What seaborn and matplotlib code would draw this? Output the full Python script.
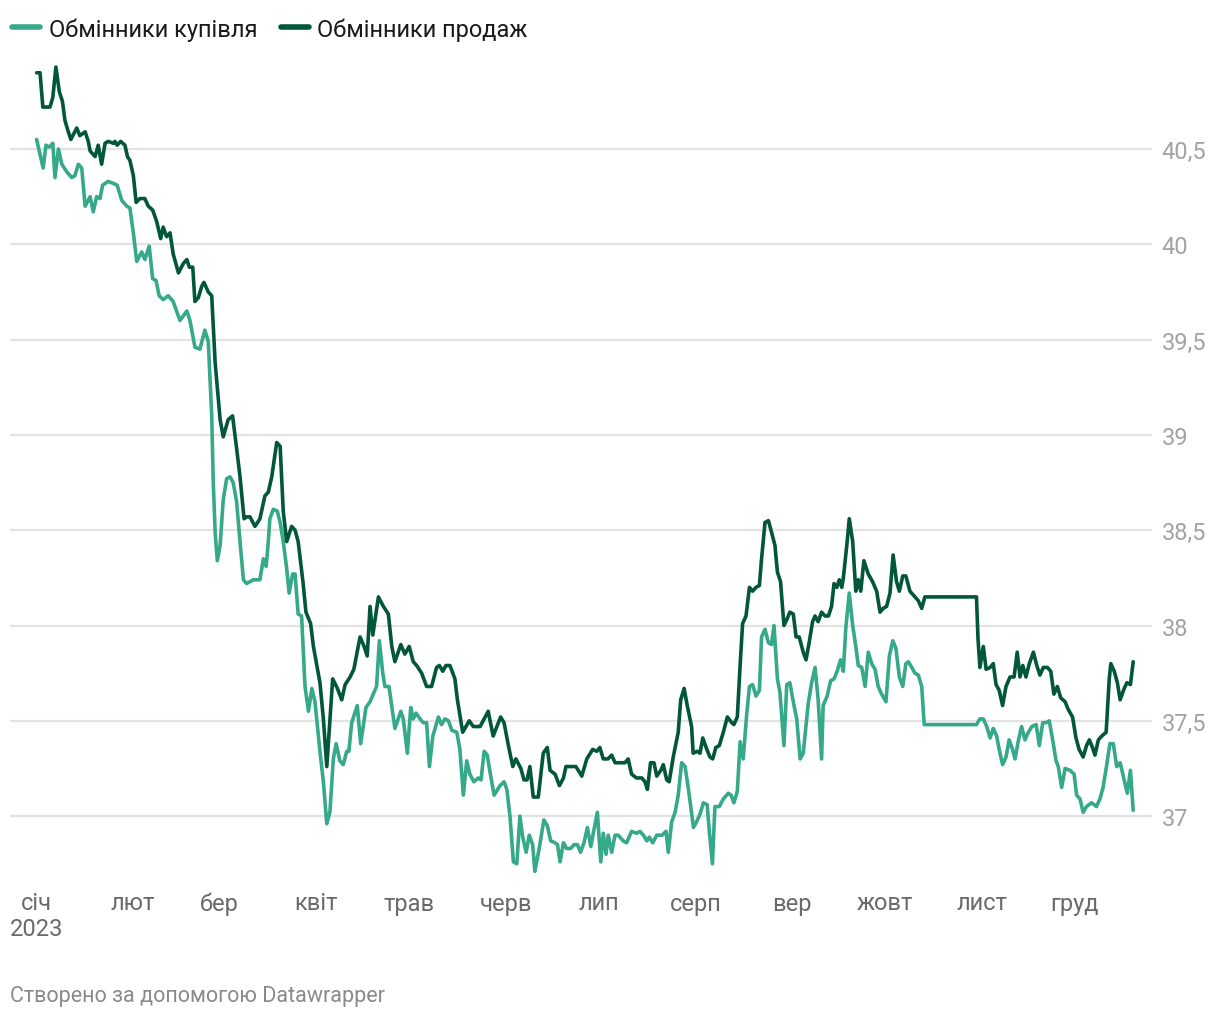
import matplotlib
matplotlib.use("Agg")
import matplotlib.pyplot as plt
from matplotlib.lines import Line2D
import seaborn as sns
import pandas as pd

# ---------------- data (day offset from 2023-01-01, UAH per USD) ----------------
sell_days = [0.2, 1.3, 2.2, 4.5, 5.4, 6.4, 7.5, 8.5, 9.3, 10.4, 11.2, 13.1, 14.1, 15.8, 16.8, 17.4, 19.0, 20.0,
             21.1, 22.2, 23.2, 24.9, 25.4, 26.1, 27.2, 28.6, 29.4, 30.2, 31.3, 32.2, 33.4, 35.0, 36.1, 37.5, 38.8,
             40.1, 40.9, 42.0, 43.1, 44.1, 45.8, 47.4, 48.5, 49.3, 50.4, 51.1, 52.2, 53.3, 54.0, 55.4, 56.5, 57.6,
             59.2, 60.2, 61.8, 63.2, 64.5, 65.6, 66.9, 67.7, 68.8, 70.4, 72.0, 73.6, 74.7, 75.8, 77.4, 78.5, 79.5,
             80.6, 82.2, 83.3, 84.3, 85.9, 86.8, 88.3, 89.2, 91.3, 92.4, 93.5, 95.4, 96.9, 98.3, 99.4, 101.0, 102.2,
             104.2, 105.5, 106.5, 107.4, 108.3, 110.1, 111.7, 113.3, 114.4, 115.4, 117.3, 118.6, 120.0, 121.3, 122.4,
             124.0, 125.6, 127.2, 128.8, 129.7, 130.8, 131.8, 133.1, 134.7, 135.5, 137.2, 139.3, 140.6, 142.8, 144.4,
             145.4, 147.0, 149.4, 150.5, 151.9, 153.3, 154.3, 155.9, 156.9, 157.9, 158.8, 159.9, 161.5, 163.1, 164.4,
             165.3, 166.9, 168.3, 169.6, 170.4, 171.9, 173.6, 175.5, 177.1, 179.0, 180.3, 181.3, 182.4, 183.9, 185.1,
             186.2, 189.4, 190.4, 191.5, 193.1, 194.8, 195.8, 196.6, 197.6, 198.7, 199.6, 200.9, 201.7, 202.8, 203.6,
             204.9, 206.5, 207.3, 208.4, 209.4, 210.8, 211.3, 212.6, 213.5, 214.4, 215.7, 216.7, 217.6, 218.6, 219.7,
             221.0, 222.3, 223.7, 224.4, 225.5, 226.4, 227.2, 228.3, 229.4, 230.4, 231.5, 232.6, 233.3, 234.4, 235.5,
             236.5, 237.6, 238.4, 239.4, 240.5, 241.4, 242.4, 243.5, 244.4, 245.4, 246.7, 247.6, 248.6, 249.7, 250.5,
             251.5, 252.6, 253.7, 254.8, 255.8, 256.6, 257.5, 258.3, 259.1, 259.6, 260.7, 261.5, 262.6, 263.6, 264.4,
             265.2, 266.2, 267.6, 269.0, 270.3, 271.4, 272.4, 273.5, 274.6, 275.6, 276.7, 277.6, 278.7, 279.7, 281.0,
             282.6, 283.7, 284.8, 285.8, 302.4, 302.9, 303.5, 304.6, 305.5, 306.8, 307.8, 308.7, 309.7, 310.8, 311.9,
             313.2, 314.5, 315.5, 316.4, 317.3, 318.3, 319.4, 320.7, 321.8, 322.8, 323.9, 325.2, 326.3, 327.3, 328.4,
             329.5, 330.9, 331.9, 333.3, 334.4, 335.4, 336.7, 337.8, 338.7, 339.7, 340.5, 341.6, 342.7, 344.1, 345.1,
             345.6, 346.7, 347.7, 348.6, 349.9, 350.8, 351.9, 352.8]
sell_values = [40.90, 40.90, 40.72, 40.72, 40.77, 40.93, 40.80, 40.75, 40.65, 40.59, 40.55, 40.61, 40.57, 40.59,
               40.54, 40.49, 40.46, 40.52, 40.42, 40.53, 40.54, 40.53, 40.54, 40.52, 40.54, 40.52, 40.46, 40.44,
               40.36, 40.22, 40.24, 40.24, 40.20, 40.18, 40.12, 40.03, 40.09, 40.04, 40.06, 39.95, 39.85, 39.90,
               39.92, 39.88, 39.88, 39.70, 39.72, 39.78, 39.80, 39.75, 39.73, 39.38, 39.08, 38.99, 39.08, 39.10,
               38.93, 38.78, 38.56, 38.57, 38.57, 38.52, 38.56, 38.68, 38.70, 38.78, 38.96, 38.94, 38.60, 38.44,
               38.52, 38.50, 38.44, 38.22, 38.07, 38.01, 37.89, 37.70, 37.51, 37.26, 37.72, 37.67, 37.61, 37.69,
               37.73, 37.77, 37.94, 37.89, 37.84, 38.10, 37.95, 38.15, 38.10, 38.06, 37.89, 37.81, 37.90, 37.85,
               37.89, 37.81, 37.79, 37.75, 37.68, 37.68, 37.78, 37.79, 37.76, 37.79, 37.79, 37.72, 37.61, 37.44,
               37.50, 37.47, 37.47, 37.52, 37.55, 37.42, 37.52, 37.49, 37.37, 37.26, 37.30, 37.25, 37.19, 37.19,
               37.26, 37.10, 37.10, 37.33, 37.36, 37.24, 37.22, 37.16, 37.20, 37.26, 37.26, 37.26, 37.21, 37.30,
               37.35, 37.34, 37.36, 37.30, 37.30, 37.32, 37.28, 37.28, 37.30, 37.22, 37.20, 37.20, 37.18, 37.14,
               37.28, 37.28, 37.21, 37.24, 37.27, 37.19, 37.18, 37.31, 37.44, 37.61, 37.67, 37.58, 37.47, 37.33,
               37.34, 37.33, 37.41, 37.35, 37.31, 37.30, 37.36, 37.37, 37.44, 37.52, 37.49, 37.48, 37.52, 37.79,
               38.01, 38.05, 38.20, 38.18, 38.20, 38.21, 38.35, 38.54, 38.55, 38.49, 38.42, 38.28, 38.23, 38.00,
               38.03, 38.07, 38.06, 37.94, 37.94, 37.86, 37.82, 37.91, 38.02, 38.05, 38.02, 38.07, 38.05, 38.05,
               38.10, 38.22, 38.20, 38.24, 38.20, 38.25, 38.42, 38.56, 38.44, 38.18, 38.24, 38.18, 38.34, 38.27,
               38.23, 38.18, 38.07, 38.09, 38.10, 38.17, 38.37, 38.23, 38.18, 38.26, 38.26, 38.18, 38.15, 38.13,
               38.09, 38.15, 38.15, 37.93, 37.78, 37.89, 37.77, 37.78, 37.80, 37.69, 37.66, 37.58, 37.68, 37.73,
               37.73, 37.86, 37.73, 37.79, 37.73, 37.80, 37.86, 37.79, 37.74, 37.78, 37.78, 37.76, 37.64, 37.68,
               37.62, 37.60, 37.56, 37.52, 37.41, 37.35, 37.31, 37.37, 37.40, 37.36, 37.32, 37.40, 37.42, 37.44,
               37.72, 37.80, 37.76, 37.70, 37.61, 37.67, 37.70, 37.69, 37.81]

buy_days = [0.2, 2.3, 3.2, 4.3, 5.4, 6.1, 7.2, 8.3, 9.9, 11.5, 12.5, 13.6, 14.7, 15.8, 17.4, 18.4, 19.5, 20.6, 21.4,
            23.2, 24.8, 26.1, 27.6, 29.2, 30.2, 31.3, 32.4, 34.0, 35.0, 36.4, 37.5, 38.6, 39.6, 40.9, 42.5, 44.1,
            46.3, 48.5, 49.5, 51.1, 52.7, 54.3, 55.4, 56.5, 57.0, 57.6, 58.3, 59.2, 60.2, 61.3, 62.4, 63.4, 64.5,
            65.6, 66.7, 67.7, 69.9, 72.0, 73.1, 74.0, 74.7, 75.2, 76.3, 77.6, 78.5, 79.5, 80.6, 81.4, 82.5, 83.3,
            84.3, 85.4, 86.5, 87.6, 88.7, 89.7, 91.3, 92.4, 93.5, 94.5, 95.6, 96.5, 97.7, 98.8, 99.9, 100.6, 101.5,
            103.3, 104.4, 106.1, 107.4, 109.5, 110.4, 111.5, 112.2, 113.5, 115.4, 117.3, 118.1, 119.4, 120.5, 121.3,
            122.2, 123.5, 124.5, 125.6, 126.5, 127.6, 129.4, 130.4, 131.5, 132.6, 133.7, 135.3, 136.3, 137.4, 138.5,
            139.5, 140.8, 142.2, 143.1, 144.1, 145.1, 146.0, 147.3, 149.2, 150.5, 151.4, 152.4, 153.5, 154.6, 155.6,
            156.5, 157.6, 158.6, 159.7, 160.4, 161.8, 163.3, 164.4, 165.5, 166.9, 167.7, 168.5, 169.6, 170.6, 171.9,
            173.0, 174.1, 175.1, 176.2, 177.3, 178.4, 179.2, 180.5, 181.6, 182.4, 183.3, 184.0, 185.1, 186.2, 187.2,
            188.8, 189.9, 191.5, 193.1, 194.2, 195.3, 196.4, 197.2, 198.3, 199.6, 201.3, 202.6, 203.3, 204.4, 205.5,
            206.5, 207.6, 208.7, 209.8, 211.4, 212.4, 213.5, 214.6, 215.8, 216.5, 217.5, 218.3, 219.7, 221.0, 222.6,
            223.5, 224.4, 225.5, 226.4, 227.4, 228.5, 229.4, 230.4, 231.5, 232.6, 233.3, 234.4, 235.5, 236.5, 237.3,
            238.4, 239.2, 240.5, 241.4, 242.4, 243.5, 244.6, 245.7, 246.7, 248.3, 249.4, 250.5, 251.5, 252.6, 253.1,
            254.4, 255.5, 256.6, 257.6, 258.7, 259.6, 260.4, 261.5, 262.6, 263.6, 264.4, 265.5, 266.6, 267.6, 268.7,
            269.8, 270.8, 271.9, 273.3, 274.4, 275.5, 276.5, 277.6, 278.7, 279.7, 280.5, 281.6, 282.6, 283.7, 284.8,
            285.6, 302.4, 303.5, 304.6, 305.7, 306.8, 307.8, 308.9, 309.7, 310.8, 311.9, 312.9, 314.0, 314.8, 315.8,
            316.9, 318.0, 319.1, 320.2, 321.6, 322.6, 323.7, 324.8, 325.8, 326.9, 328.0, 328.7, 329.8, 330.9, 332.5,
            333.8, 334.6, 335.7, 336.7, 337.8, 339.4, 341.0, 342.1, 343.1, 344.2, 345.3, 346.4, 347.5, 348.6, 349.9,
            350.9, 351.9, 352.8]
buy_values = [40.55, 40.40, 40.52, 40.51, 40.53, 40.35, 40.50, 40.42, 40.38, 40.35, 40.36, 40.42, 40.40, 40.20,
              40.25, 40.17, 40.25, 40.24, 40.31, 40.33, 40.32, 40.31, 40.23, 40.20, 40.19, 40.06, 39.91, 39.96,
              39.92, 39.99, 39.82, 39.81, 39.73, 39.71, 39.73, 39.70, 39.60, 39.65, 39.60, 39.46, 39.45, 39.55,
              39.49, 39.10, 38.75, 38.49, 38.34, 38.42, 38.66, 38.77, 38.78, 38.75, 38.65, 38.44, 38.24, 38.22,
              38.24, 38.24, 38.35, 38.31, 38.44, 38.56, 38.61, 38.60, 38.54, 38.44, 38.30, 38.17, 38.27, 38.27,
              38.06, 38.05, 37.68, 37.55, 37.67, 37.60, 37.34, 37.18, 36.96, 37.02, 37.30, 37.38, 37.29, 37.27,
              37.34, 37.34, 37.49, 37.58, 37.38, 37.57, 37.60, 37.68, 37.92, 37.75, 37.68, 37.68, 37.46, 37.55,
              37.51, 37.33, 37.57, 37.51, 37.54, 37.51, 37.49, 37.49, 37.26, 37.42, 37.52, 37.48, 37.51, 37.50,
              37.45, 37.44, 37.35, 37.11, 37.29, 37.22, 37.18, 37.20, 37.19, 37.34, 37.32, 37.23, 37.11, 37.16,
              37.18, 37.14, 37.00, 36.76, 36.75, 37.00, 36.89, 36.81, 36.90, 36.85, 36.71, 36.83, 36.98, 36.95,
              36.87, 36.86, 36.85, 36.76, 36.86, 36.83, 36.83, 36.85, 36.85, 36.81, 36.86, 36.94, 36.84, 36.91,
              37.02, 36.76, 36.91, 36.80, 36.90, 36.81, 36.90, 36.90, 36.87, 36.86, 36.92, 36.91, 36.92, 36.90,
              36.87, 36.89, 36.86, 36.90, 36.90, 36.92, 36.81, 36.97, 37.02, 37.11, 37.28, 37.26, 37.14, 36.94,
              36.97, 37.01, 37.07, 37.06, 36.92, 36.75, 37.05, 37.05, 37.09, 37.12, 37.11, 37.07, 37.13, 37.39,
              37.30, 37.53, 37.68, 37.69, 37.63, 37.66, 37.94, 37.98, 37.91, 37.90, 38.00, 37.72, 37.65, 37.37,
              37.69, 37.70, 37.60, 37.51, 37.30, 37.33, 37.59, 37.70, 37.78, 37.61, 37.30, 37.58, 37.63, 37.71,
              37.72, 37.76, 37.82, 37.76, 37.99, 38.17, 38.00, 37.89, 37.79, 37.78, 37.68, 37.86, 37.80, 37.77,
              37.68, 37.64, 37.60, 37.84, 37.92, 37.88, 37.73, 37.68, 37.80, 37.81, 37.78, 37.75, 37.74, 37.68,
              37.48, 37.48, 37.51, 37.51, 37.47, 37.41, 37.46, 37.42, 37.35, 37.27, 37.31, 37.40, 37.35, 37.30,
              37.39, 37.47, 37.40, 37.44, 37.47, 37.48, 37.37, 37.49, 37.49, 37.50, 37.40, 37.29, 37.26, 37.15,
              37.25, 37.24, 37.22, 37.11, 37.09, 37.02, 37.05, 37.07, 37.05, 37.09, 37.15, 37.26, 37.38, 37.38,
              37.26, 37.28, 37.19, 37.12, 37.24, 37.03]

series_names = ["Обмінники купівля", "Обмінники продаж"]
month_labels = ["січ", "лют", "бер", "квіт", "трав", "черв", "лип", "серп", "вер", "жовт", "лист", "груд"]
y_ticks = [37, 37.5, 38, 38.5, 39, 39.5, 40, 40.5]
year_label = "2023"
source_text = "Створено за допомогою Datawrapper"

# ---------------- build frame ----------------
base = pd.Timestamp("2023-01-01")
df = pd.concat([
    pd.DataFrame({"date": base + pd.to_timedelta(buy_days, unit="D"), "value": buy_values,
                  "series": series_names[0]}),
    pd.DataFrame({"date": base + pd.to_timedelta(sell_days, unit="D"), "value": sell_values,
                  "series": series_names[1]}),
], ignore_index=True)

LIGHT = "#36a98b"
DARK = "#02563a"
palette = {series_names[0]: LIGHT, series_names[1]: DARK}

sns.set_theme(style="white")
plt.rcParams["font.family"] = ["Roboto", "DejaVu Sans"]

W, H = 1220, 1020
fig = plt.figure(figsize=(W / 100, H / 100), dpi=100)
ax_l, ax_r, ax_t, ax_b = 10, 1152, 60, 880
ax = fig.add_axes([ax_l / W, 1 - ax_b / H, (ax_r - ax_l) / W, (ax_b - ax_t) / H])

# layout scale derived from the reference
px_per_day = 3.11
x0_px = 36
val_per_px = 0.5 / 95.3
y_top = 40.5 + (150 - ax_t) * val_per_px
y_bot = 40.5 - (ax_b - 150) * val_per_px
d_left = (ax_l - x0_px) / px_per_day
d_right = (ax_r - x0_px) / px_per_day

for yt in y_ticks:
    ax.axhline(yt, color="#e3e3e3", lw=1.6, zorder=0)

sns.lineplot(data=df, x="date", y="value", hue="series", palette=palette, ax=ax,
             linewidth=2.6, legend=False, estimator=None, sort=False)
for line in ax.get_lines():
    line.set_solid_joinstyle("round")
    line.set_solid_capstyle("round")

ax.set_xlim(base + pd.Timedelta(days=d_left), base + pd.Timedelta(days=d_right))
ax.set_ylim(y_bot, y_top)

for s in ax.spines.values():
    s.set_visible(False)
ax.grid(False)
ax.set_xlabel("")
ax.set_ylabel("")

# y ticks on the right
ax.yaxis.tick_right()
ax.set_yticks(y_ticks)
ax.set_yticklabels([f"{t:g}".replace(".", ",") for t in y_ticks])
ax.tick_params(axis="y", length=0, pad=7, labelsize=17, labelcolor="#a3a3a3")

# x ticks: month starts
month_starts = pd.date_range("2023-01-01", periods=12, freq="MS")
ax.set_xticks(month_starts)
ax.set_xticklabels(month_labels)
ax.tick_params(axis="x", length=0, pad=9, labelsize=17, labelcolor="#6a6a6a")

fig.text(10 / W, 1 - 930 / H, year_label, fontsize=17, color="#6a6a6a", va="center", ha="left")
fig.text(10 / W, 1 - 997 / H, source_text, fontsize=15.5, color="#8a8a8a", va="center", ha="left")

handles = [Line2D([0], [0], color=LIGHT, lw=4, solid_capstyle="round"),
           Line2D([0], [0], color=DARK, lw=4, solid_capstyle="round")]
fig.legend(handles, series_names, loc="center left", bbox_to_anchor=(12 / W, 1 - 30 / H), ncol=2,
           frameon=False, fontsize=17, handlelength=1.2, handletextpad=0.35, columnspacing=1.0,
           borderpad=0, borderaxespad=0, labelcolor="#1a1a1a")

fig.savefig("out.png", dpi=100)
